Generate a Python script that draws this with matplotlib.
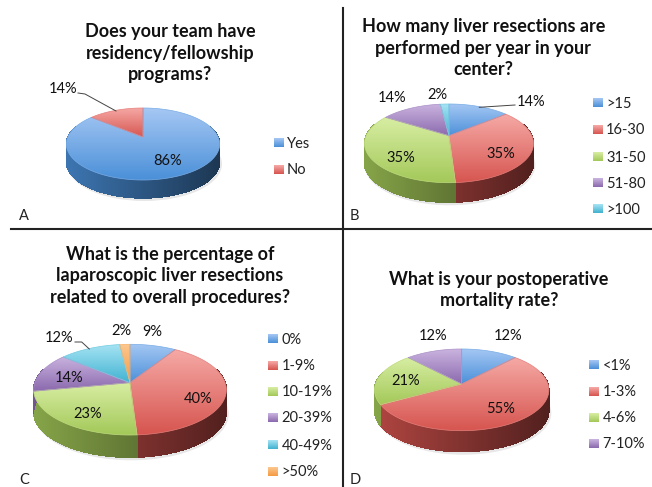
import numpy as np
import matplotlib
matplotlib.use("Agg")
import matplotlib.pyplot as plt
from matplotlib.colors import LinearSegmentedColormap, to_rgb
from matplotlib.patches import Polygon, Ellipse

plt.rcParams['font.family'] = ['Lato', 'DejaVu Sans']

# survey answers
titles = ["Does your team have\nresidency/fellowship\nprograms?",
          "How many liver resections are\nperformed per year in your\ncenter?",
          "What is the percentage of\nlaparoscopic liver resections\nrelated to overall procedures?",
          "What is your postoperative\nmortality rate?"]
panel_letters = ["A", "B", "C", "D"]

cats_a = ["Yes", "No"]
vals_a = [86, 14]
cats_b = [">15", "16-30", "31-50", "51-80", ">100"]
vals_b = [14, 35, 35, 14, 2]
cats_c = ["0%", "1-9%", "10-19%", "20-39%", "40-49%", ">50%"]
vals_c = [9, 40, 23, 14, 12, 2]
cats_d = ["<1%", "1-3%", "4-6%", "7-10%"]
vals_d = [12, 55, 21, 12]

# light, saturated colour of the top face
colours = [("#a6c8f4", "#4a8fd8"), ("#f6aaa6", "#d6544f"), ("#d8eea4", "#a3c858"),
           ("#cbb5e0", "#8a68ad"), ("#a8e4f4", "#3fb2d0"), ("#fcc890", "#f59a42")]

W, H = 652, 487
fig = plt.figure(figsize=(W / 100, H / 100), dpi=100)
ax = fig.add_axes([0, 0, 1, 1])
ax.set_xlim(0, W)
ax.set_ylim(H, 0)
ax.axis("off")


def gradient(c1, c2, extent, clip=None, z=3):
    cmap = LinearSegmentedColormap.from_list("g", [c1, c2])
    im = ax.imshow(np.linspace(0, 1, 64).reshape(-1, 1), cmap=cmap, extent=extent,
                   aspect="auto", zorder=z, interpolation="bilinear")
    if clip is not None:
        im.set_clip_path(clip)
    return im


def draw_pie(vals, left, right, top, bottom, apex, depth):
    # tilted pie with perspective: back half squeezed, front half stretched
    ax_x, ax_y = apex
    back = ax_y - top
    front = bottom - ax_y
    k = (front - back) / (front + back)
    h = back * (1 + k)
    w = (right - left) / 2 * np.sqrt(1 - k * k)

    def project(t):
        d = 1 + k * np.cos(t)
        return ax_x + w * np.sin(t) / d, ax_y - h * np.cos(t) / d

    # soft shadow under the pie
    ax.add_patch(Ellipse(((left + right) / 2 + 1, (top + bottom) / 2 + depth + 2),
                         right - left + 2, bottom - top + 2,
                         fc="#bbbbbb", ec="none", alpha=0.35, zorder=1))

    edges = 2 * np.pi * np.cumsum([0] + list(vals)) / sum(vals)
    for i in range(len(vals)):
        c_light, c_sat = colours[i]
        t = np.linspace(edges[i], edges[i + 1], max(int(vals[i] * 8), 8))
        x, y = project(t)

        # side wall, lighter on the left and darker on the right
        for j in range(len(t) - 1):
            if np.cos(t[j]) > 0.3 and np.cos(t[j + 1]) > 0.3:
                continue
            xm = (x[j] + x[j + 1]) / 2
            f = 0.82 - 0.44 * (xm - left) / (right - left)
            c = np.array(to_rgb(c_sat)) * f
            ax.add_patch(Polygon([(x[j], y[j]), (x[j + 1], y[j + 1]),
                                  (x[j + 1], y[j + 1] + depth), (x[j], y[j] + depth)],
                                 fc=c, ec=c, lw=0.3, antialiased=False, zorder=2))

        # top face
        verts = [apex] + list(zip(x, y))
        face = Polygon(verts, fc="none", ec="none", transform=ax.transData)
        ax.add_patch(face)
        gradient(c_light, c_sat, (x.min() - 1 if x.min() < ax_x else ax_x - 1,
                                  x.max() + 1 if x.max() > ax_x else ax_x + 1,
                                  max(y.max(), ax_y) + 1, min(y.min(), ax_y) - 1),
                 clip=face)
        mid = tuple((np.array(to_rgb(c_light)) + np.array(to_rgb(c_sat))) / 2)
        ax.add_patch(Polygon(verts, fc="none", ec=mid, lw=0.5, zorder=4))


def legend(cats, x0, ys):
    for i, cat in enumerate(cats):
        gradient(colours[i][0], colours[i][1], (x0, x0 + 9.5, ys[i] + 4.5, ys[i] - 4.5), z=3)
        ax.text(x0 + 13.5, ys[i] + 0.5, cat, fontsize=10.5, color="#222222", va="center", ha="left")


def labels(items):
    for txt, x, y in items:
        ax.text(x, y, txt, fontsize=10.5, color="#111111", ha="center", va="center", zorder=6)


draw_pie(vals_a, 66.7, 220, 108, 180, (143, 137), 18)
draw_pie(vals_b, 364.3, 533.3, 104, 182.7, (449, 135.7), 19.6)
draw_pie(vals_c, 34, 226.7, 344.3, 435, (130, 382.7), 22.3)
draw_pie(vals_d, 375, 549.3, 349, 430.7, (461.7, 384), 21)

legend(cats_a, 273.5, [143, 170])
legend(cats_b, 592.7, [103, 130, 157, 183, 209])
legend(cats_c, 268.2, [339, 366, 392, 418, 445, 472])
legend(cats_d, 589.2, [365, 392, 418, 444])

labels([("14%", 63, 89), ("86%", 168, 161)])
labels([("14%", 531, 101.5), ("2%", 437, 95), ("14%", 392, 98),
        ("35%", 501, 154), ("35%", 401, 158)])
labels([("9%", 152, 332.5), ("2%", 121.7, 331), ("12%", 59, 338.5),
        ("14%", 69, 377.5), ("23%", 87.3, 414), ("40%", 198.3, 399)])
labels([("12%", 507.7, 336.5), ("12%", 432.7, 336.5), ("21%", 405.7, 381), ("55%", 500.7, 409)])

# leader lines
ax.plot([78, 85, 116], [93, 94, 111], color="#444444", lw=0.7, zorder=5)
ax.plot([515, 479.3], [105, 107.3], color="#444444", lw=0.7, zorder=5)
ax.plot([75, 81.7, 89.3], [342, 342, 349], color="#444444", lw=0.7, zorder=5)

# titles
for txt, x, y in zip(titles, [170, 483.3, 170, 499], [53, 48.3, 276, 290]):
    ax.text(x, y, txt, fontsize=13, fontweight="bold", color="#111111",
            ha="center", va="center", linespacing=1.32)

for txt, x, y in zip(panel_letters, [19, 350, 19, 350], [216.5, 216.5, 480, 480]):
    ax.text(x, y, txt, fontsize=10.5, color="#222222", ha="left", va="center")

# panel dividers
ax.plot([11, 652], [228.5, 228.5], color="#222222", lw=1.5, zorder=7)
ax.plot([342.7, 342.7], [8, 487], color="#222222", lw=1.5, zorder=7)

ax.set_xlim(0, W)
ax.set_ylim(H, 0)
fig.savefig("out.png", dpi=100)
